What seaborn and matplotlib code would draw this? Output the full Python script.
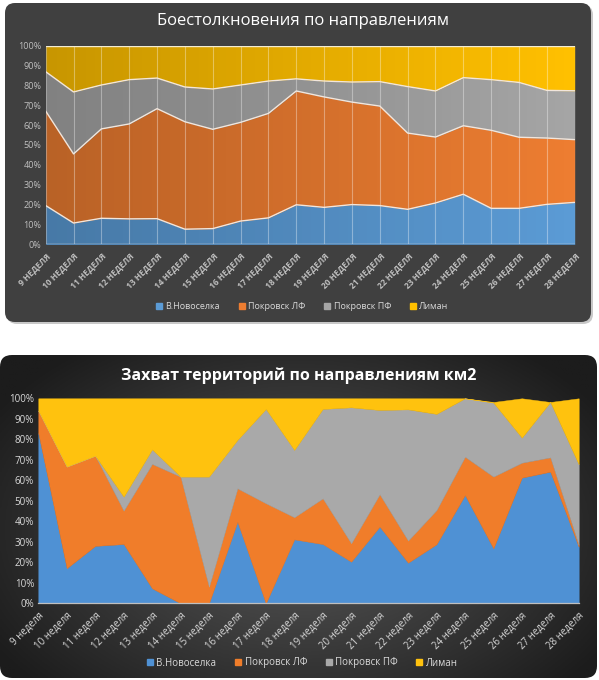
import matplotlib
matplotlib.use("Agg")
import matplotlib.pyplot as plt
from matplotlib.patches import FancyBboxPatch
from matplotlib.lines import Line2D
from matplotlib.ticker import PercentFormatter
import numpy as np
import pandas as pd
import seaborn as sns

# %% data (shares in %)
weeks = [f"{n} неделя" for n in range(9, 29)]
series_names = ["В.Новоселка", "Покровск ЛФ", "Покровск ПФ", "Лиман"]

# Боестолкновения
clash_vn = [19.5, 10.7, 13.1, 12.8, 12.9, 7.6, 7.9, 11.7, 13.3, 19.9,
            18.6, 20.0, 19.5, 17.6, 20.8, 25.2, 18.1, 18.1, 20.1, 21.1]
clash_plf = [47.6, 34.8, 45.0, 47.8, 55.4, 54.1, 50.0, 49.7, 52.6, 57.3,
             55.6, 51.6, 50.1, 38.4, 33.2, 34.5, 39.3, 35.8, 33.4, 31.6]
clash_ppf = [19.8, 31.2, 22.1, 22.3, 15.4, 17.5, 20.3, 18.8, 16.3, 6.1,
             8.0, 10.1, 12.3, 23.4, 23.2, 24.2, 25.5, 27.6, 24.0, 24.6]
clash_lim = [13.1, 23.3, 19.8, 17.1, 16.3, 20.8, 21.8, 19.8, 17.8, 16.7,
             17.8, 18.3, 18.1, 20.6, 22.8, 16.1, 17.1, 18.5, 22.5, 22.7]

# Захват территорий
terr_vn = [83.0, 17.1, 28.0, 28.9, 7.3, 0.0, 0.0, 39.8, 0.0, 31.2,
           28.9, 20.3, 37.4, 19.8, 28.8, 52.8, 26.8, 61.3, 64.2, 27.6]
terr_plf = [11.0, 49.6, 44.0, 16.3, 60.7, 61.8, 8.1, 16.3, 48.8, 10.8,
            22.3, 9.0, 15.8, 10.8, 16.7, 18.7, 35.0, 7.3, 7.0, 0.9]
terr_ppf = [0.0, 0.0, 0.0, 6.8, 7.1, 0.0, 53.7, 23.6, 46.0, 32.8,
            43.6, 66.3, 41.1, 64.0, 46.9, 28.5, 36.1, 12.2, 27.0, 39.3]
terr_lim = [6.0, 33.3, 28.0, 48.0, 24.9, 38.2, 38.2, 20.3, 5.2, 25.2,
            5.2, 4.4, 5.7, 5.4, 7.6, 0.0, 0.3, 19.2, 0.0, 32.2]

# %% style
sns.set_theme(style="white")
plt.rcParams["font.family"] = ["Open Sans", "DejaVu Sans"]

W, H = 599, 680
fig = plt.figure(figsize=(W / 100, H / 100), dpi=100)
fig.patch.set_facecolor("white")

bg = fig.add_axes([0, 0, 1, 1], zorder=0)
bg.set_xlim(0, W)
bg.set_ylim(H, 0)
bg.axis("off")

# top panel
bg.add_patch(FancyBboxPatch((7, 5), 586, 319, boxstyle="round,pad=0,rounding_size=10",
                            fc="#c8c8c8", ec="none"))
bg.add_patch(FancyBboxPatch((5, 3), 586, 319, boxstyle="round,pad=0,rounding_size=10",
                            fc="#404040", ec="none"))

# bottom panel with radial gradient
panel2 = FancyBboxPatch((0, 355), 597, 323, boxstyle="round,pad=0,rounding_size=12",
                        fc="none", ec="none")
bg.add_patch(panel2)
gx, gy = np.meshgrid(np.linspace(0, 597, 300), np.linspace(355, 678, 160))
r = np.sqrt(((gx - 300) / 360) ** 2 + ((gy - 530) / 230) ** 2)
r = np.clip(r, 0, 1)
c_in, c_out = np.array([0x5a, 0x5a, 0x5a]) / 255, np.array([0x1c, 0x1c, 0x1c]) / 255
grad = c_in[None, None, :] * (1 - r[..., None]) + c_out[None, None, :] * r[..., None]
im = bg.imshow(grad, extent=(0, 597, 678, 355), aspect="auto", zorder=1)
im.set_clip_path(panel2)
bg.set_xlim(0, W)
bg.set_ylim(H, 0)


def ax_rect(x0, y0, x1, y1):
    return [x0 / W, 1 - y1 / H, (x1 - x0) / W, (y1 - y0) / H]


x = np.arange(len(weeks))

# %% chart 1 — Боестолкновения
ax1 = fig.add_axes(ax_rect(45.7, 45.7, 574.7, 244.3), zorder=2)
top_cols = ["#5b9bd5", "#ed7d31", "#a5a5a5", "#ffc000"]
ax1.stackplot(x, clash_vn, clash_plf, clash_ppf, clash_lim, colors=top_cols,
              linewidth=0)
# darker on the left, like the original gradient fill
shade = np.zeros((2, 200, 4))
shade[..., 3] = np.linspace(0.22, 0.0, 200)[None, :]
ax1.imshow(shade, extent=(0, 19, 0, 100), aspect="auto", zorder=2)

cum1 = np.cumsum([clash_vn, clash_plf, clash_ppf], axis=0)
edges = pd.DataFrame({
    "pos": np.tile(x, 3),
    "cum": cum1.ravel(),
    "series": np.repeat(series_names[:3], len(x)),
})
sns.lineplot(data=edges, x="pos", y="cum", hue="series",
             palette=["#f2e6dc"] * 3, linewidth=1.0, legend=False, ax=ax1, zorder=4)
for xi in x:
    ax1.axvline(xi, color="white", alpha=0.35, lw=0.8, zorder=3)
ax1.axhline(100, color="#f5ecd0", lw=1.0, zorder=4)
ax1.axhline(0, color="#dddddd", lw=1.0, zorder=4)

ax1.set_xlim(0, 19)
ax1.set_ylim(0, 100)
ax1.set_yticks(np.arange(0, 101, 10))
ax1.yaxis.set_major_formatter(PercentFormatter(decimals=0))
ax1.set_xticks(x)
ax1.set_xticklabels([w.upper() for w in weeks], rotation=45, ha="right",
                    rotation_mode="anchor", fontweight="bold")
ax1.tick_params(axis="both", length=0, colors="#bfbfbf", labelsize=6.5, pad=3)
ax1.tick_params(axis="x", labelsize=6, pad=5)
ax1.set_xlabel("")
ax1.set_ylabel("")
for s in ax1.spines.values():
    s.set_visible(False)
ax1.set_facecolor("none")

bg.text(303, 21, "Боестолкновения по направлениям", color="white",
        fontsize=12, ha="center", va="center", zorder=5)

# %% chart 2 — Захват территорий
ax2 = fig.add_axes(ax_rect(38.3, 398.3, 578.7, 603.3), zorder=2)
bot_cols = ["#4f91d4", "#f07d2a", "#a9a9a9", "#ffc20e"]
ax2.stackplot(x, terr_vn, terr_plf, terr_ppf, terr_lim, colors=bot_cols,
              linewidth=0.3, edgecolor="face")
ax2.set_xlim(0, 19)
ax2.set_ylim(0, 100)
ax2.set_yticks(np.arange(0, 101, 10))
ax2.yaxis.set_major_formatter(PercentFormatter(decimals=0))
ax2.set_xticks(x)
ax2.set_xticklabels(weeks, rotation=45, ha="right", rotation_mode="anchor")
ax2.tick_params(axis="y", length=0, colors="#d9d9d9", labelsize=7, pad=3)
ax2.tick_params(axis="x", length=3, width=0.8, color="#bfbfbf", colors="#d9d9d9",
                labelsize=7, pad=2, direction="out")
for s in ax2.spines.values():
    s.set_visible(False)
ax2.spines["bottom"].set_visible(True)
ax2.spines["bottom"].set_color("#bfbfbf")
ax2.spines["bottom"].set_linewidth(0.9)
ax2.set_facecolor("none")

bg.text(299, 376, "Захват территорий по направлениям км2", color="white",
        fontsize=11.5, fontweight="bold", ha="center", va="center", zorder=5)


# %% legends
def legend_for(cols, y_px, size, spacing):
    handles = [Line2D([], [], marker="s", ls="none", color=c, markersize=5)
               for c in cols]
    leg = fig.legend(handles, series_names, loc="center", ncol=4,
                     bbox_to_anchor=(302 / W, 1 - y_px / H), frameon=False,
                     fontsize=size, labelcolor="#d9d9d9", handletextpad=0.3,
                     columnspacing=spacing, handlelength=0.8)
    return leg


legend_for(top_cols, 307, 6.5, 2.0)
legend_for(bot_cols, 663, 7.0, 1.8)

fig.savefig("out.png", dpi=100, facecolor=fig.get_facecolor())
